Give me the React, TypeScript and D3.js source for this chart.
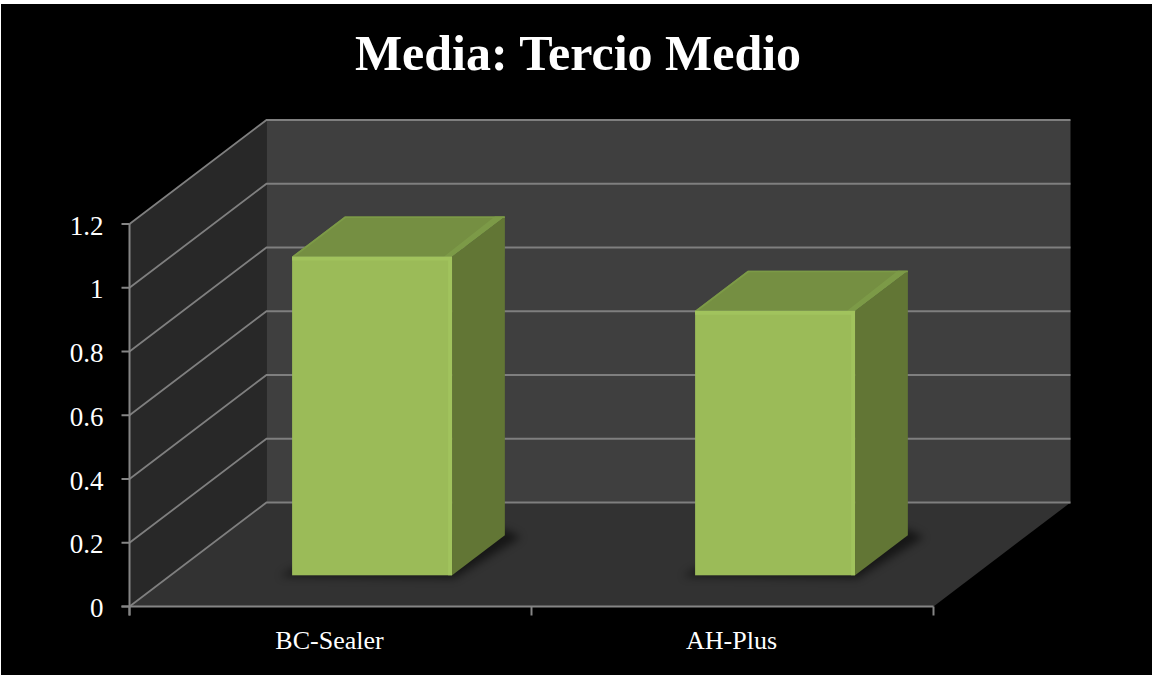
import React from "react";
import * as d3 from "d3";

const categories = ["BC-Sealer", "AH-Plus"];
const values = [1.0, 0.83];
const yTicks = [0, 0.2, 0.4, 0.6, 0.8, 1, 1.2];
const title = "Media: Tercio Medio";

const SERIF = "'Liberation Serif', serif";

// Frame of the oblique 3D box
const W = 1152, H = 675;
const front = { left: 129.5, right: 933.5, bottom: 606.5, top: 224 };
const depth = { dx: 137, dy: -104 };

const y = d3.scaleLinear().domain([0, 1.2]).range([front.bottom, front.top]);
const x = d3.scaleBand<string>().domain(categories).range([front.left, front.right]);
const barX = d3.scaleBand<string>().domain(categories).range([front.left, front.right + 2]);

// Bars sit part way into the depth of the floor
const BAR_WIDTH = 160;
const barDepthStart = 0.3;
const barDepthSize = 0.385;

const pts = (p: [number, number][]) => p.map((d) => d.join(",")).join(" ");

export default function App() {
  const d = depth;
  const axisColor = "#858585";
  const wallLine = "#7f7f7f";
  return (
    <svg
      width={W}
      height={H}
      viewBox={`0 0 ${W} ${H}`}
      style={{ position: "absolute", left: 0, top: 0, background: "#fff", display: "block" }}
    >
      <defs>
        <filter id="floorShadow" x="-30%" y="-30%" width="160%" height="160%">
          <feGaussianBlur stdDeviation="4" />
        </filter>
        <filter id="soft" x="-5%" y="-5%" width="110%" height="110%">
          <feGaussianBlur stdDeviation="0.5" />
        </filter>
      </defs>
      <rect x={1} y={4} width={W - 1} height={H - 4} fill="#000" />

      {/* walls and floor */}
      <polygon
        points={pts([
          [front.left, front.bottom],
          [front.left, front.top],
          [front.left + d.dx, front.top + d.dy],
          [front.left + d.dx, front.bottom + d.dy],
        ])}
        fill="#282828"
      />
      <rect
        x={front.left + d.dx}
        y={front.top + d.dy}
        width={front.right - front.left}
        height={front.bottom - front.top + 1}
        fill="#3f3f3f"
      />
      <polygon
        points={pts([
          [front.left, front.bottom],
          [front.right, front.bottom],
          [front.right + d.dx, front.bottom + d.dy],
          [front.left + d.dx, front.bottom + d.dy],
        ])}
        fill="#323232"
      />

      {/* gridlines along side wall and back wall */}
      {yTicks.map((t) => (
        <polyline
          key={t}
          stroke={wallLine}
          strokeWidth={1.8}
          fill="none"
          points={pts([
            [front.left, y(t)],
            [front.left + d.dx, y(t) + d.dy],
            [front.right + d.dx, y(t) + d.dy],
          ])}
        />
      ))}

      {/* bars */}
      {categories.map((c, i) => {
        const cx = (barX(c) as number) + barX.bandwidth() / 2;
        const x0 = cx - BAR_WIDTH / 2 + d.dx * barDepthStart;
        const x1 = x0 + BAR_WIDTH;
        const base = y(0) + d.dy * barDepthStart;
        const top = base - (y(0) - y(values[i]));
        const bx = d.dx * barDepthSize;
        const by = d.dy * barDepthSize;
        const bevel = 4;
        return (
          <g key={c}>
            {/* soft contact shadow on the floor */}
            <polygon
              points={pts([
                [x0 - 12, base + 1],
                [x1 + 2, base + 3],
                [x1 + bx + 16, base + by + 2],
                [x1 + bx, base + by - 6],
                [x0, base - 6],
              ])}
              fill="#000"
              opacity={0.55}
              filter="url(#floorShadow)"
            />
            <g filter="url(#soft)">
              <rect x={x0} y={top} width={BAR_WIDTH} height={base - top} fill="#9bbb59" />
              <polygon
                points={pts([
                  [x0, top],
                  [x1, top],
                  [x1 + bx, top + by],
                  [x0 + bx, top + by],
                ])}
                fill="#758f42"
              />
              <polygon
                points={pts([
                  [x1, top],
                  [x1 + bx, top + by],
                  [x1 + bx, base + by],
                  [x1, base],
                ])}
                fill="#627635"
              />
              {/* bevelled edges */}
              <polygon
                points={pts([
                  [x1, top],
                  [x1 + bx, top + by],
                  [x1 + bx - bevel * 2.5, top + by],
                  [x1 - bevel * 2, top],
                ])}
                fill="#7c9a47"
              />
              <polygon
                points={pts([
                  [x0, top],
                  [x0 + bx, top + by],
                  [x1 + bx, top + by],
                  [x1 + bx, top + by + 1.5],
                  [x0 + bx + 1, top + by + 1.5],
                  [x0 + 3, top],
                ])}
                fill="#7c9a47"
              />
              <polygon
                points={pts([
                  [x0, top],
                  [x1, top],
                  [x1, base],
                  [x1 - bevel, base],
                  [x1 - bevel, top + bevel],
                  [x0, top + bevel],
                ])}
                fill="#a1c35d"
              />
            </g>
          </g>
        );
      })}

      {/* axes */}
      <g stroke={axisColor} strokeWidth={2} fill="none">
        <line x1={front.left} x2={front.left} y1={front.top} y2={front.bottom + 9} />
        <line x1={front.left - 8} x2={front.right} y1={front.bottom} y2={front.bottom} />
        {yTicks.map((t) => (
          <line key={t} x1={front.left - 8} x2={front.left} y1={y(t)} y2={y(t)} />
        ))}
        {[0, 1, 2].map((i) => {
          const px = front.left + i * x.bandwidth();
          return <line key={i} x1={px} x2={px} y1={front.bottom} y2={front.bottom + 9} />;
        })}
      </g>

      {/* tick labels */}
      <g fill="#fff" fontFamily={SERIF} fontSize={27} textAnchor="end">
        {yTicks.map((t) => (
          <text key={t} x={103.5} y={y(t) + 10.5}>
            {String(t)}
          </text>
        ))}
      </g>
      <g fill="#fff" fontFamily={SERIF} fontSize={26} textAnchor="middle">
        {categories.map((c) => (
          <text key={c} x={(x(c) as number) + x.bandwidth() / 2 - 1} y={649}>
            {c}
          </text>
        ))}
      </g>
      <text
        x={578}
        y={70}
        textAnchor="middle"
        fill="#fff"
        fontFamily={SERIF}
        fontSize={50}
        fontWeight="bold"
      >
        {title}
      </text>
    </svg>
  );
}
